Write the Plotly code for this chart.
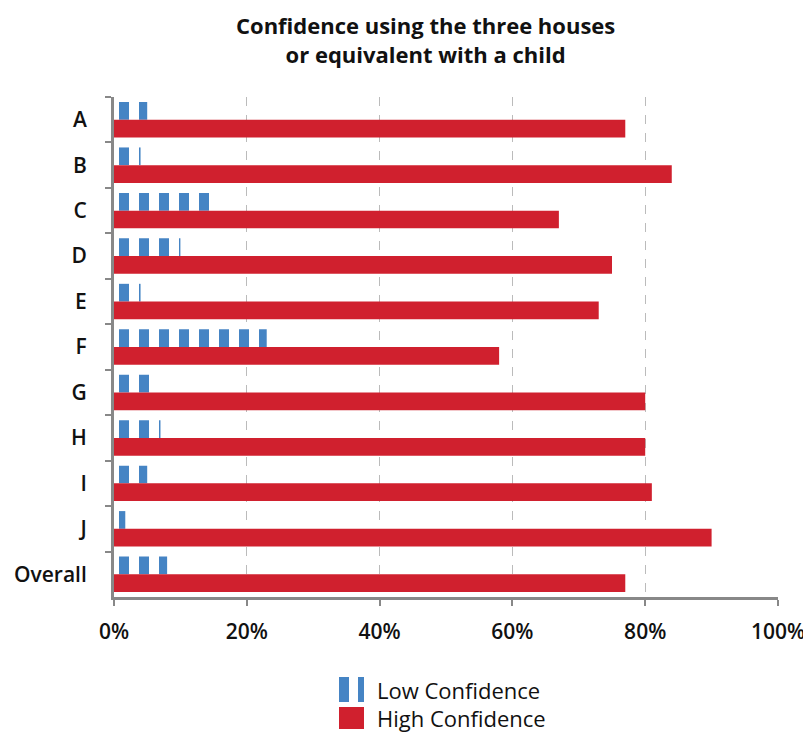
import plotly.graph_objects as go

categories = ["A", "B", "C", "D", "E", "F", "G", "H", "I", "J", "Overall"]
low_conf = [5, 4, 15, 10, 4, 23, 6, 7, 5, 1.7, 8]
high_conf = [77, 84, 67, 75, 73, 58, 80, 80, 81, 90, 77]
series_names = ["Low Confidence", "High Confidence"]
title_text = "<b>Confidence using the three houses<br>or equivalent with a child</b>"

BLUE = "#4584c4"
RED = "#d0202e"
FONT = "Open Sans"
OFF = 8  # page body margin offset
W, H = 811 - OFF, 733 - OFF
ML, MR, MT, MB = 114 - OFF, 33, 97 - OFF, 136
PW, PH = W - ML - MR, H - MT - MB


def px_x(px):
    return (px - OFF - ML) / PW


def px_y(py):
    return (H - MB - (py - OFF)) / PH


fig = go.Figure()
fig.add_trace(go.Bar(
    y=categories, x=low_conf, orientation="h", name=series_names[0],
    marker=dict(color=BLUE, line=dict(width=0),
                pattern=dict(shape="|", size=20, solidity=0.5, fgcolor=BLUE,
                             bgcolor="white", fillmode="replace")),
))
fig.add_trace(go.Bar(
    y=categories, x=high_conf, orientation="h", name=series_names[1],
    marker=dict(color=RED, line=dict(width=0)),
))

# custom legend (larger symbols, as in the reference)
shapes = [
    dict(type="rect", xref="paper", yref="paper", x0=px_x(339), x1=px_x(349),
         y0=px_y(702), y1=px_y(677), fillcolor=BLUE, line=dict(width=0)),
    dict(type="rect", xref="paper", yref="paper", x0=px_x(358), x1=px_x(364),
         y0=px_y(702), y1=px_y(677), fillcolor=BLUE, line=dict(width=0)),
    dict(type="rect", xref="paper", yref="paper", x0=px_x(339), x1=px_x(364),
         y0=px_y(729), y1=px_y(707), fillcolor=RED, line=dict(width=0)),
]
annotations = [
    dict(text=series_names[0], xref="paper", yref="paper", x=px_x(375), y=px_y(690),
         xanchor="left", yanchor="middle", showarrow=False,
         font=dict(family=FONT, size=22, color="#111")),
    dict(text=series_names[1], xref="paper", yref="paper", x=px_x(375), y=px_y(718),
         xanchor="left", yanchor="middle", showarrow=False,
         font=dict(family=FONT, size=22, color="#111")),
    dict(text=title_text, xref="paper", yref="paper", x=px_x(425), y=px_y(8),
         xanchor="center", yanchor="top", showarrow=False, align="center",
         font=dict(family=FONT, size=22, color="#111")),
]

fig.update_layout(
    width=W, height=H,
    plot_bgcolor="white", paper_bgcolor="white",
    barmode="group", bargap=0.22, bargroupgap=0,
    margin=dict(l=ML, r=MR, t=MT, b=MB, autoexpand=False),
    font=dict(family=FONT, color="#222"),
    showlegend=False,
    shapes=shapes,
    annotations=annotations,
)
fig.update_xaxes(
    range=[0, 100], dtick=20, ticksuffix="%", automargin=False,
    showgrid=True, gridcolor="#bbbbbb", griddash="dash", gridwidth=1,
    showline=True, linecolor="#888888", linewidth=3,
    ticks="outside", ticklen=6, tickcolor="#888888", tickwidth=2,
    tickfont=dict(family=FONT, size=21, color="#111", weight=600),
    zeroline=False, ticklabelstandoff=8,
)
fig.update_yaxes(
    autorange="reversed", type="category", automargin=False,
    showline=True, linecolor="#888888", linewidth=3,
    ticks="outside", tickson="boundaries", ticklen=6, tickcolor="#888888", tickwidth=2,
    tickfont=dict(family=FONT, size=21, color="#111", weight=600),
    showgrid=False, ticklabelstandoff=20,
)
fig.write_html("out.html")
